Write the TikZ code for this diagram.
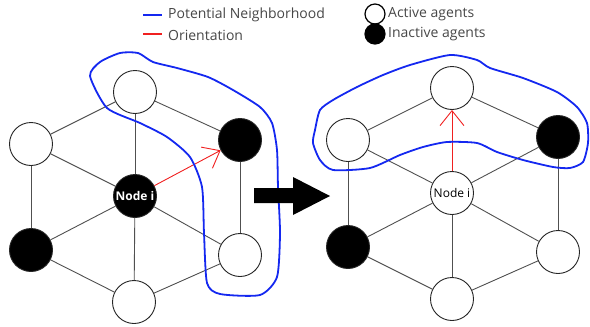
\documentclass[tikz,border=0pt]{standalone}
\usepackage{fontspec}
\setmainfont{Open Sans}
\usetikzlibrary{arrows.meta}
\definecolor{edgegray}{HTML}{505050}
\definecolor{nbblue}{HTML}{1428F0}
\definecolor{orired}{HTML}{F02020}
\tikzset{
  agent/.style={circle, draw=black!85, line width=0.9pt, minimum size=43pt, inner sep=0pt, fill=white, font=\fontsize{12}{14}\selectfont},
  inactive/.style={agent, fill=black},
  edge/.style={draw=edgegray, line width=0.9pt},
  nbhd/.style={draw=nbblue, line width=1.8pt},
  orient/.style={draw=orired, line width=0.9pt, -{Straight Barb[length=15pt,width=24pt,line width=0.9pt]}},
  legtext/.style={anchor=west, inner sep=0pt, text=black!72, font=\fontsize{14}{16}\selectfont},
  legdot/.style={circle, draw=black, line width=1.2pt, minimum size=20pt, inner sep=0pt},
  bigarrow/.style={fill=black}
}
\begin{document}
\begin{tikzpicture}[x=1pt,y=-1pt]
\useasboundingbox (0,0) rectangle (590,327);

% Legend
\coordinate (lb1) at (143,15);
\coordinate (lb2) at (162,15);
\coordinate (lr1) at (143,34);
\coordinate (lr2) at (162,34);
\draw[nbblue, line width=2.5pt] (lb1) -- (lb2);
\draw[orired, line width=2.5pt] (lr1) -- (lr2);
\node[legtext] (t1) at (168,15) {Potential Neighborhood};
\node[legtext] (t2) at (168,35) {Orientation};
\node[legdot, fill=white] (la) at (375,14) {};
\node[legdot, fill=black] (li) at (375,34) {};
\node[legtext] (t3) at (388,14) {Active agents};
\node[legtext] (t4) at (388,34) {Inactive agents};

% Left graph
\node[agent] (aT) at (135,92) {};
\node[agent] (aUL) at (31,144) {};
\node[inactive] (aUR) at (240,140) {};
\node[inactive, text=white, font=\fontsize{12}{14}\selectfont\bfseries] (aC) at (135,196) {Node i};
\node[inactive] (aLL) at (31,250) {};
\node[agent] (aLR) at (240,255) {};
\node[agent] (aB) at (134,302) {};
\draw[edge] (aT) -- (aUL);
\draw[edge] (aT) -- (aUR);
\draw[edge] (aT) -- (aC);
\draw[edge] (aUL) -- (aC);
\draw[edge] (aUL) -- (aLL);
\draw[edge] (aUR) -- (aLR);
\draw[edge] (aC) -- (aLL);
\draw[edge] (aC) -- (aLR);
\draw[edge] (aC) -- (aB);
\draw[edge] (aLL) -- (aB);
\draw[edge] (aLR) -- (aB);
\draw[orient] (aC) -- (aUR);

\draw[nbhd] plot[smooth cycle, tension=0.4] coordinates {
 (90,76) (100,62) (120,53) (138,53) (153,62) (177,68) (208,77) (233,90)
 (260,107) (272,123) (277,150) (278,187) (280,233) (277,277) (260,295)
 (220,294) (207,283) (204,233) (202,187) (190,157) (167,137) (140,123) (107,108)};

% Big arrow
\fill[bigarrow] (254,188) -- (293,188) -- (293,177) -- (330,196) -- (293,215) -- (293,203) -- (254,203) -- cycle;

% Right graph
\node[agent] (bT) at (452,88) {};
\node[agent] (bUL) at (348,140) {};
\node[inactive] (bUR) at (558,137) {};
\node[agent] (bC) at (452,193) {Node i};
\node[inactive] (bLL) at (348,247) {};
\node[agent] (bLR) at (558,252) {};
\node[agent] (bB) at (452,299) {};
\draw[edge] (bT) -- (bUL);
\draw[edge] (bT) -- (bUR);
\draw[edge] (bUL) -- (bC);
\draw[edge] (bUR) -- (bC);
\draw[edge] (bUL) -- (bLL);
\draw[edge] (bUR) -- (bLR);
\draw[edge] (bC) -- (bLL);
\draw[edge] (bC) -- (bLR);
\draw[edge] (bC) -- (bB);
\draw[edge] (bLL) -- (bB);
\draw[edge] (bLR) -- (bB);
\draw[orient] (bC) -- (bT);

\draw[nbhd] plot[smooth cycle, tension=0.4] coordinates {
 (315,130) (320,110) (333,100) (357,87) (383,75) (410,65) (450,55) (477,60)
 (490,68) (523,78) (557,92) (577,107) (587,123) (588,143) (583,162) (570,168)
 (553,167) (523,160) (497,152) (477,143) (447,142) (423,147) (400,155)
 (370,168) (333,170) (320,160) (313,143)};
\end{tikzpicture}
\end{document}
